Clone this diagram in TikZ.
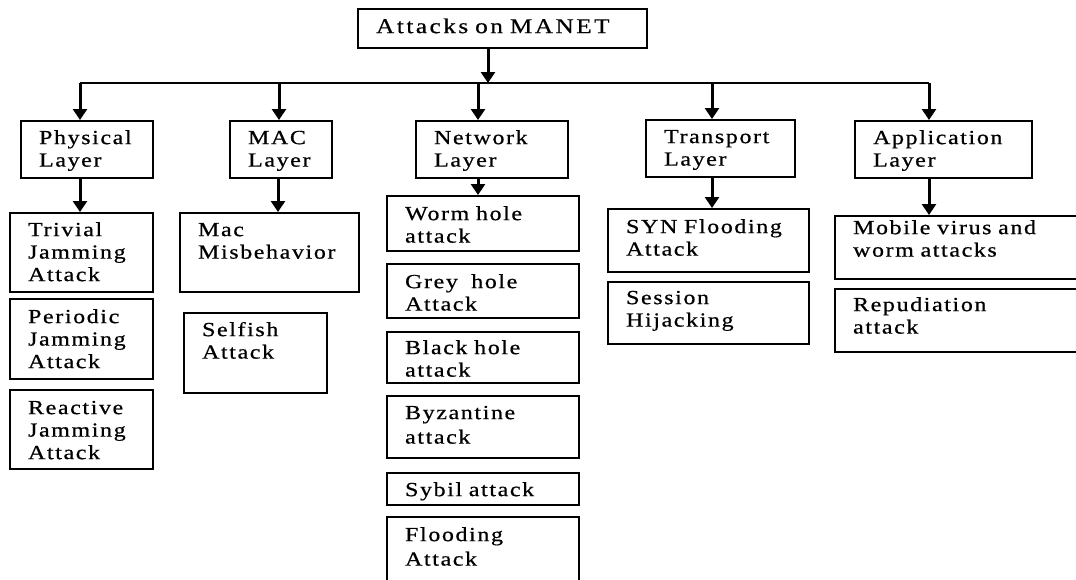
\documentclass[tikz,border=0pt]{standalone}
\usepackage{fontspec}
\setmainfont{Liberation Serif}[FakeStretch=1.2,LetterSpace=8,WordSpace=1.6,FakeBold=0.6]
\usetikzlibrary{arrows.meta}
\begin{document}
\begin{tikzpicture}[x=1pt,y=-1pt,
  box/.style={draw=black,line width=2.2pt,anchor=north west,align=left,inner xsep=18pt,inner ysep=0pt,text height=23pt,font=\fontsize{20}{22.5}\selectfont},
  flow/.style={-{Triangle[width=14pt,length=11pt]},line width=3pt},
  bus/.style={line width=1.3pt}]
\useasboundingbox (0,0) rectangle (1076,579);
\clip (0,0) rectangle (1076,579);
\node[box,text width=253pt,text height=24pt,text depth=15pt,font=\fontsize{21}{24}\selectfont\addfontfeatures{LetterSpace=12}] (top) at (357,8) {\mbox{Attacks on MANET}};
% layers
\node[box,text width=96pt,text depth=34pt] (phy) at (20,120) {\mbox{Physical}\\\mbox{Layer}};
\node[box,text width=66pt,text depth=34pt] (mac) at (229,120) {\mbox{MAC}\\\mbox{Layer}};
\node[box,text width=116pt,text depth=34pt] (net) at (415,120) {\mbox{Network}\\\mbox{Layer}};
\node[box,text width=113pt,text depth=34pt] (tra) at (645,119) {\mbox{Transport}\\\mbox{Layer}};
\node[box,text width=141pt,text depth=34pt] (app) at (854,120) {\mbox{Application}\\\mbox{Layer}};
% bus and drops
\coordinate (b0) at (488,83);
\coordinate (dPhy) at (80,83);
\coordinate (dMac) at (279,83);
\coordinate (dNet) at (478,83);
\coordinate (dTra) at (712,83);
\coordinate (dApp) at (929,83);
\draw[flow] (b0 |- top.south) -- (b0);
\draw[bus] (dPhy) -- (dApp);
\draw[flow] (dPhy) -- (dPhy |- phy.north);
\draw[flow] (dMac) -- (dMac |- mac.north);
\draw[flow] (dNet) -- (dNet |- net.north);
\draw[flow] (dTra) -- (dTra |- tra.north);
\draw[flow] (dApp) -- (dApp |- app.north);
% physical layer attacks
\node[box,text width=107pt,text depth=56pt] (triv) at (9,212) {\mbox{Trivial}\\\mbox{Jamming}\\\mbox{Attack}};
\node[box,text width=107pt,text height=24pt,text depth=56pt] (peri) at (9,298) {\mbox{Periodic}\\\mbox{Jamming}\\\mbox{Attack}};
\node[box,text width=107pt,text height=24pt,text depth=55pt] (reac) at (9,389) {\mbox{Reactive}\\\mbox{Jamming}\\\mbox{Attack}};
% mac layer attacks
\node[box,text width=143pt,text depth=56pt] (misb) at (179,212) {\mbox{Mac}\\\mbox{Misbehavior}};
\node[box,text width=107pt,text depth=57pt] (self) at (183,312) {\mbox{Selfish}\\\mbox{Attack}};
% network layer attacks
\node[box,text width=156pt,text height=24pt,text depth=31pt] (worm) at (386,195) {\mbox{Worm hole}\\\mbox{attack}};
\node[box,text width=156pt,text height=24pt,text depth=30pt] (grey) at (386,263) {\mbox{Grey\ \ hole}\\\mbox{Attack}};
\node[box,text width=156pt,text height=22pt,text depth=29pt] (blk) at (386,331) {\mbox{Black hole}\\\mbox{attack}};
\node[box,text width=156pt,text depth=39pt] (byz) at (386,395) {\mbox{Byzantine}\\[2pt]\mbox{attack}};
\node[box,text width=156pt,text depth=9pt] (syb) at (386,472) {\mbox{Sybil attack}};
\node[box,text width=156pt,text height=24pt,text depth=40pt] (flood) at (386,516) {\mbox{Flooding}\\[2pt]\mbox{Attack}};
% transport layer attacks
\node[box,text width=165pt,text height=24pt,text depth=39pt] (syn) at (607,208) {\mbox{SYN Flooding}\\\mbox{Attack}};
\node[box,text width=165pt,text height=22pt,text depth=40pt] (sess) at (607,281) {\mbox{Session}\\\mbox{Hijacking}};
% application layer attacks
\node[box,text width=230pt,text height=18pt,text depth=45pt] (mob) at (834,215) {\mbox{Mobile virus and}\\\mbox{worm attacks}};
\node[box,text width=230pt,text height=22pt,text depth=41pt] (rep) at (834,288) {\mbox{Repudiation}\\\mbox{attack}};
% down arrows
\draw[flow] (dPhy |- phy.south) -- (dPhy |- triv.north);
\draw[flow] (278,0 |- mac.south) -- (278,0 |- misb.north);
\draw[flow] (dNet |- net.south) -- (dNet |- worm.north);
\draw[flow] (dTra |- tra.south) -- (dTra |- syn.north);
\draw[flow] (dApp |- app.south) -- (dApp |- mob.north);
\end{tikzpicture}
\end{document}
